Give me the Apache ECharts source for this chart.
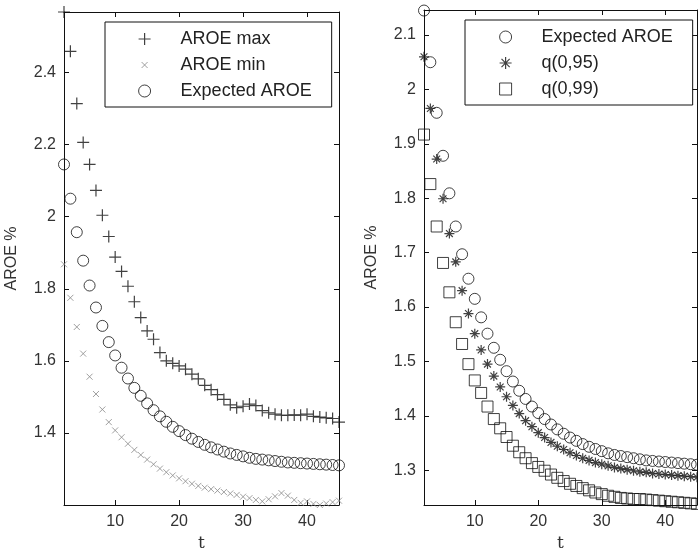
<!DOCTYPE html>
<html>
<head>
<meta charset="utf-8">
<script src="https://cdn.jsdelivr.net/npm/echarts@6/dist/echarts.min.js"></script>
<style>
html,body{margin:0;padding:0;background:#fff;}
#c{width:698px;height:557px;}
</style>
</head>
<body>
<div id="c"></div>
<script>
// ---- data ----
const tVals = [2,3,4,5,6,7,8,9,10,11,12,13,14,15,16,17,18,19,20,21,22,23,24,25,26,27,28,29,30,31,32,33,34,35,36,37,38,39,40,41,42,43,44,45];
const aroeMax = [2.568,2.459,2.314,2.206,2.145,2.073,2.004,1.945,1.888,1.848,1.807,1.764,1.720,1.683,1.660,1.623,1.600,1.593,1.586,1.577,1.563,1.550,1.532,1.520,1.506,1.493,1.478,1.470,1.474,1.480,1.476,1.462,1.456,1.452,1.449,1.449,1.450,1.449,1.452,1.446,1.444,1.442,1.440,1.430];
const aroeMin = [1.868,1.775,1.694,1.620,1.556,1.508,1.465,1.430,1.407,1.388,1.370,1.353,1.339,1.326,1.313,1.301,1.291,1.282,1.274,1.266,1.259,1.253,1.248,1.244,1.240,1.236,1.232,1.228,1.223,1.219,1.214,1.210,1.216,1.224,1.233,1.226,1.214,1.206,1.210,1.203,1.200,1.204,1.208,1.212];
const expectedAroe = [2.145,2.050,1.957,1.878,1.809,1.748,1.697,1.652,1.615,1.581,1.551,1.525,1.503,1.482,1.463,1.446,1.431,1.417,1.405,1.394,1.384,1.375,1.367,1.360,1.354,1.348,1.343,1.339,1.335,1.331,1.328,1.326,1.324,1.322,1.320,1.318,1.317,1.316,1.315,1.314,1.313,1.312,1.311,1.310];
const q95 = [2.060,1.965,1.872,1.799,1.735,1.683,1.630,1.588,1.551,1.521,1.495,1.473,1.453,1.435,1.419,1.404,1.391,1.380,1.369,1.360,1.351,1.344,1.338,1.332,1.327,1.322,1.318,1.314,1.311,1.308,1.305,1.303,1.301,1.299,1.297,1.296,1.294,1.293,1.292,1.291,1.290,1.289,1.288,1.287];
const q99 = [1.917,1.826,1.748,1.681,1.627,1.572,1.532,1.495,1.465,1.442,1.417,1.394,1.377,1.361,1.345,1.333,1.322,1.313,1.306,1.299,1.292,1.286,1.280,1.275,1.271,1.267,1.263,1.259,1.256,1.253,1.251,1.249,1.248,1.247,1.247,1.246,1.245,1.244,1.243,1.242,1.241,1.240,1.239,1.238];
const xTicks = [10,20,30,40];
const leftYTicks = [1.4,1.6,1.8,2,2.2,2.4];
const rightYTicks = [1.3,1.4,1.5,1.6,1.7,1.8,1.9,2,2.1];
const leftNames = ['AROE max','AROE min','Expected AROE'];
const rightNames = ['Expected AROE','q(0,95)','q(0,99)'];
const xTitle = 't';
const yTitle = 'AROE %';

// ---- styling ----
const FONT = '"Liberation Sans", Arial, sans-serif';
const AX = '#111';
const SYM = {
  plus: {symbol:'path://M6,0L6,12M0,6L12,6', size:12, color:'#111', w:1.2},
  cross: {symbol:'path://M0,0M12,12M3,3L9,9M9,3L3,9', size:12, color:'#888', w:1},
  circle: {symbol:'circle', size:11, color:'#111', w:1},
  star: {symbol:'path://M5,0L5,10M0,5L10,5M1.6,1.6L8.4,8.4M8.4,1.6L1.6,8.4', size:10, color:'#111', w:1.2},
  square: {symbol:'path://M0,0L11,0L11,11L0,11Z', size:11, color:'#111', w:1}
};

function pairs(vals){ return tVals.map((t,i)=>[t, vals[i]]); }

function xAxes(gi){
  const base = {
    gridIndex: gi, type:'value', min:2, max:45,
    axisLine:{show:true,onZero:false,lineStyle:{color:AX,width:1}},
    axisTick:{show:true,inside:true,length:5,customValues:xTicks,lineStyle:{color:AX}},
    splitLine:{show:false}
  };
  return [
    Object.assign({}, base, {position:'bottom',
      axisLabel:{customValues:xTicks,margin:9,fontSize:16,color:'#333',fontFamily:FONT},
      name:xTitle,nameLocation:'middle',nameGap:30,
      nameTextStyle:{fontSize:17,color:'#333',fontFamily:'"DejaVu Serif", serif'}}),
    Object.assign({}, base, {position:'top',axisLabel:{show:false}})
  ];
}
function yAxes(gi,min,max,ticks){
  const base = {
    gridIndex: gi, type:'value', min:min, max:max,
    axisLine:{show:true,onZero:false,lineStyle:{color:AX,width:1}},
    axisTick:{show:true,inside:true,length:5,customValues:ticks,lineStyle:{color:AX}},
    splitLine:{show:false}
  };
  return [
    Object.assign({}, base, {position:'left',
      axisLabel:{customValues:ticks,margin:8,fontSize:16,color:'#333',fontFamily:FONT},
      name:yTitle,nameLocation:'middle',nameGap:44,
      nameTextStyle:{fontSize:16,color:'#333',fontFamily:FONT}}),
    Object.assign({}, base, {position:'right',axisLabel:{show:false}})
  ];
}
function scat(name, vals, s, xi, yi){
  return {
    type:'scatter', name:name, data:pairs(vals), xAxisIndex:xi, yAxisIndex:yi,
    symbol:s.symbol, symbolSize:s.size, clip:false,
    itemStyle:{color:'transparent',borderColor:s.color,borderWidth:s.w},
    emphasis:{disabled:true}, silent:true
  };
}
function legItem(name,s){
  return {name:name, icon:s.symbol, itemStyle:{color:'transparent',borderColor:s.color,borderWidth:s.w}};
}

const option = {
  backgroundColor:'#fff',
  animation:false,
  grid:[
    {left:64, top:12, width:275, height:497},
    {left:424, top:10, width:273, height:499}
  ],
  xAxis: xAxes(0).concat(xAxes(1)),
  yAxis: yAxes(0,1.2,2.568,leftYTicks).concat(yAxes(1,1.236,2.146,rightYTicks)),
  legend:[
    {left:105, top:22, orient:'vertical', itemWidth:62, itemHeight:12, itemGap:6,
     padding:[7,20,6,33], borderColor:'#111', borderWidth:1, backgroundColor:'#fff',
     selectedMode:false,
     textStyle:{fontSize:18,lineHeight:20,color:'#222',fontFamily:FONT},
     data:[legItem(leftNames[0],SYM.plus),legItem(leftNames[1],SYM.cross),legItem(leftNames[2],SYM.circle)]},
    {left:465, top:20, orient:'vertical', itemWidth:62, itemHeight:12, itemGap:6,
     padding:[7,20,6,34], borderColor:'#111', borderWidth:1, backgroundColor:'#fff',
     selectedMode:false,
     textStyle:{fontSize:18,lineHeight:20,color:'#222',fontFamily:FONT},
     data:[legItem(rightNames[0],SYM.circle),legItem(rightNames[1],SYM.star),legItem(rightNames[2],SYM.square)]}
  ],
  series:[
    scat(leftNames[0], aroeMax, SYM.plus, 0, 0),
    scat(leftNames[1], aroeMin, SYM.cross, 0, 0),
    scat(leftNames[2], expectedAroe, SYM.circle, 0, 0),
    scat(rightNames[0], expectedAroe, SYM.circle, 2, 2),
    scat(rightNames[1], q95, SYM.star, 2, 2),
    scat(rightNames[2], q99, SYM.square, 2, 2)
  ]
};
const chart = echarts.init(document.getElementById('c'), null, {renderer:'canvas'});
chart.setOption(option);
</script>
</body>
</html>
